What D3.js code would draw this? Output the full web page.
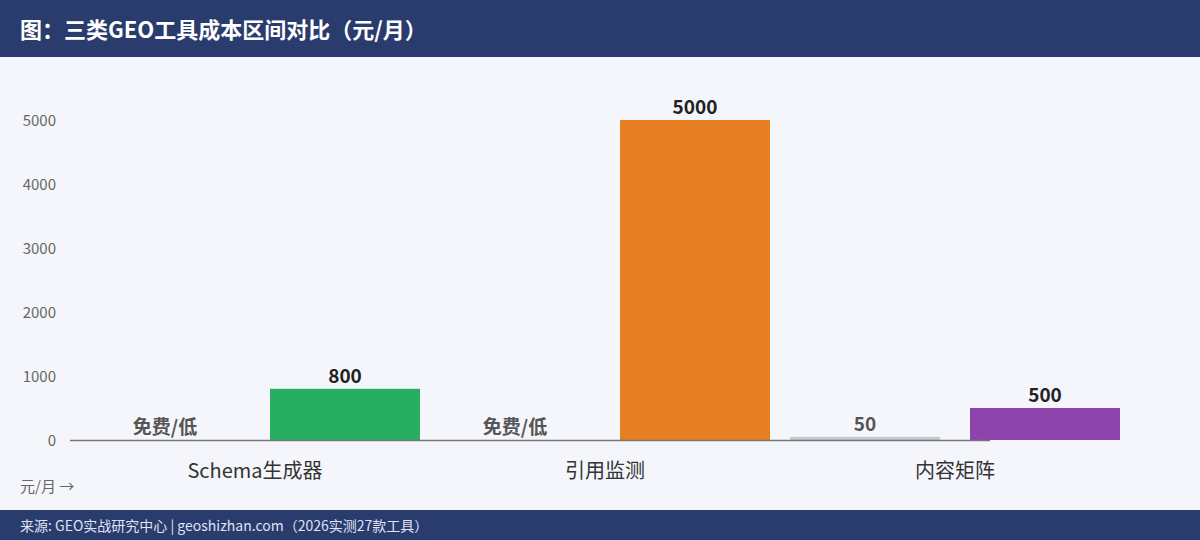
<!DOCTYPE html>
<html><head><meta charset="utf-8">
<script src="https://cdn.jsdelivr.net/npm/d3@7"></script>
<style>body{margin:0;background:#f5f6fb;font-family:"Noto Sans CJK SC","Noto Sans",sans-serif;}</style>
</head><body><svg id="chart"></svg>
<script>
const categories = ['Schema生成器', '引用监测', '内容矩阵'];
const lowValues = [0, 0, 50];
const lowLabels = ['免费/低', '免费/低', '50'];
const highValues = [800, 5000, 500];
const highLabels = ['800', '5000', '500'];
const yTicks = [0, 1000, 2000, 3000, 4000, 5000];
const highColors = ['#27ae60', '#e67e22', '#8e44ad'];
const lowColor = '#bfcad1';

const W = 1200, H = 540;
const svg = d3.select('#chart').attr('width', W).attr('height', H);
svg.append('rect').attr('width', W).attr('height', H).attr('fill', '#f5f6fb');
// header
svg.append('rect').attr('width', W).attr('height', 57).attr('fill', '#2a3b6d');
svg.append('text').attr('x', 20).attr('y', 38).attr('fill', '#fff')
  .attr('font-size', 22).attr('font-weight', 'bold').text('图：三类GEO工具成本区间对比（元/月）');
// footer
svg.append('rect').attr('y', 510).attr('width', W).attr('height', 30).attr('fill', '#2a3b6d');
svg.append('text').attr('x', 20).attr('y', 531).attr('fill', '#dfe4f0')
  .attr('font-size', 14).text('来源: GEO实战研究中心 | geoshizhan.com（2026实测27款工具）');

const x = d3.scaleBand().domain(categories).range([70, 1120]);
const y = d3.scaleLinear().domain([0, 5000]).range([440, 120]);
const barW = 150, gap = 30, pad = 20;

// y tick labels
svg.append('g').selectAll('text').data(yTicks).enter().append('text')
  .attr('x', 56).attr('y', d => y(d) + 6).attr('text-anchor', 'end')
  .attr('font-size', 15).attr('fill', '#666').text(d => d);

const g = svg.append('g').selectAll('g').data(categories).enter().append('g');
// low bars
g.append('rect').attr('x', d => x(d) + pad).attr('width', barW)
  .attr('y', (d, i) => y(lowValues[i])).attr('height', (d, i) => 440 - y(lowValues[i]))
  .attr('fill', lowColor);
g.append('text').attr('x', d => x(d) + pad + barW / 2)
  .attr('y', (d, i) => y(lowValues[i]) - 6).attr('text-anchor', 'middle')
  .attr('font-size', 19).attr('font-weight', 'bold').attr('fill', '#555')
  .text((d, i) => lowLabels[i]);
// high bars
g.append('rect').attr('x', d => x(d) + pad + barW + gap).attr('width', barW)
  .attr('y', (d, i) => y(highValues[i])).attr('height', (d, i) => 440 - y(highValues[i]))
  .attr('fill', (d, i) => highColors[i]);
g.append('text').attr('x', d => x(d) + pad + barW * 1.5 + gap)
  .attr('y', (d, i) => y(highValues[i]) - 6).attr('text-anchor', 'middle')
  .attr('font-size', 19).attr('font-weight', 'bold').attr('fill', '#222')
  .text((d, i) => highLabels[i]);
// category labels
g.append('text').attr('x', d => x(d) + x.bandwidth() / 2 - 70 + 70)
  .attr('x', d => x(d) + pad + barW + gap / 2).attr('y', 478)
  .attr('text-anchor', 'middle').attr('font-size', 20).attr('fill', '#333').text(d => d);

// baseline
svg.append('line').attr('x1', 70).attr('x2', 990).attr('y1', 440.5).attr('y2', 440.5)
  .attr('stroke', '#777').attr('stroke-width', 1.5);
svg.append('text').attr('x', 20).attr('y', 492).attr('font-size', 15).attr('fill', '#666').text('元/月 →');
</script></body></html>
